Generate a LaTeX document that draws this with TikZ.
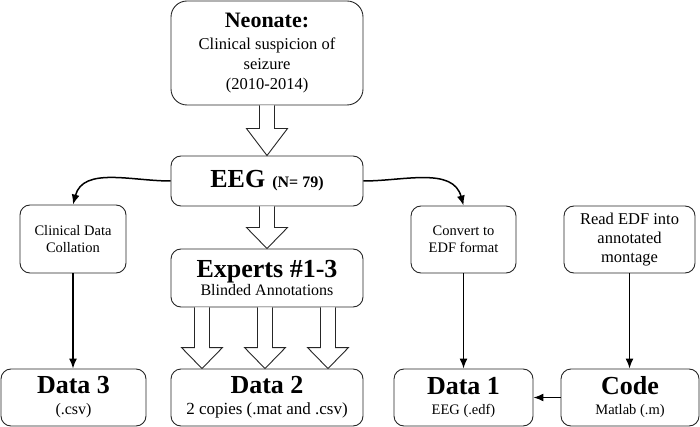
\documentclass[tikz,border=0pt]{standalone}
\usepackage{fontspec}
\setmainfont{Liberation Serif}
\usetikzlibrary{calc,arrows.meta}
\def\fatarrow[#1](#2)(#3){\draw[hollow] ($(#2)+(-7.5,0)$) -- ($(#3)+(-7.5,-#1)$) -- ($(#3)+(-20.5,-#1)$) -- (#3) -- ($(#3)+(20.5,-#1)$) -- ($(#3)+(7.5,-#1)$) -- ($(#2)+(7.5,0)$);}
\tikzset{
	box/.style={draw=black!85, line width=0.9pt, rounded corners=10pt, align=center, inner sep=2pt},
	arr/.style={-{Latex[length=10pt,width=8pt]}, line width=1.5pt},
	hollow/.style={draw=black!85, line width=0.9pt, fill=white, line join=miter},
}

\begin{document}
\begin{tikzpicture}[x=1pt,y=-1pt]
		%%%%% START %%%%%
		\useasboundingbox (0,0) rectangle (700,427);
		
		\node[box, minimum width=192pt, minimum height=104pt, rounded corners=16pt, font=\fontsize{16.5}{20}\selectfont] (neo) at (267,53) {{\fontsize{22}{24}\selectfont\bfseries Neonate:}\\[2pt] Clinical suspicion of\\ seizure\\ (2010-2014)};
		\node[box, minimum width=192pt, minimum height=50pt] (eeg) at (267,181) {{\fontsize{26}{28}\selectfont\bfseries EEG}\hspace{7pt}{\fontsize{16}{18}\selectfont\bfseries (N= 79)}};
		\node[box, minimum width=192pt, minimum height=58pt, font=\fontsize{16}{18}\selectfont] (exp) at (267,278) {{\fontsize{26}{28}\selectfont\bfseries Experts \#1-3}\\ Blinded Annotations};
		
		\node[box, minimum width=106pt, minimum height=68pt, font=\fontsize{14.5}{17}\selectfont] (clin) at (73,239) {Clinical Data\\ Collation};
		\node[box, minimum width=105pt, minimum height=67pt, font=\fontsize{14.5}{17}\selectfont] (conv) at (463.5,239.5) {Convert to\\ EDF format};
		\node[box, minimum width=131pt, minimum height=67pt, font=\fontsize{16.5}{19}\selectfont] (read) at (629.5,239.5) {Read EDF into\\ annotated\\ montage};
		
		\node[box, minimum width=145pt, minimum height=57pt, font=\fontsize{16}{21}\selectfont] (data3) at (73.5,397.5) {{\fontsize{26}{28}\selectfont\bfseries Data 3}\\ (.csv)};
		\node[box, minimum width=192pt, minimum height=57pt, font=\fontsize{17}{21}\selectfont] (data2) at (267,397.5) {{\fontsize{26}{28}\selectfont\bfseries Data 2}\\ 2 copies (.mat and .csv)};
		\node[box, minimum width=139pt, minimum height=57pt, font=\fontsize{14.5}{20}\selectfont] (data1) at (463.5,397.5) {{\fontsize{26}{28}\selectfont\bfseries Data 1}\\ EEG (.edf)};
		\node[box, minimum width=138pt, minimum height=57pt, font=\fontsize{14.5}{20}\selectfont] (code) at (630,397.5) {{\fontsize{26}{28}\selectfont\bfseries Code}\\ Matlab (.m)};
		
		\fatarrow[27](neo.south)(eeg.north)
		\fatarrow[21](eeg.south)(exp.north)
		\foreach \dx [count=\i] in {-65,-2,61} {
			\coordinate (top\i) at ($(exp.south)+(\dx,0)$);
			\coordinate (tip\i) at ($(data2.north)+(\dx,0)$);
			\fatarrow[21](top\i)(tip\i)
		}
		
		\draw[arr] (eeg.west) to[out=180,in=75] (clin.north);
		\draw[arr] (eeg.east) to[out=0,in=105] (conv.north);
		\draw[arr] (clin.south) -- (clin.south |- data3.north);
		\draw[arr] (conv.south) -- (conv.south |- data1.north);
		\draw[arr] (read.south) -- (read.south |- code.north);
		\draw[arr] (code.west) -- (data1.east);
		%%%%% END %%%%%
	\end{tikzpicture}
\end{document}
